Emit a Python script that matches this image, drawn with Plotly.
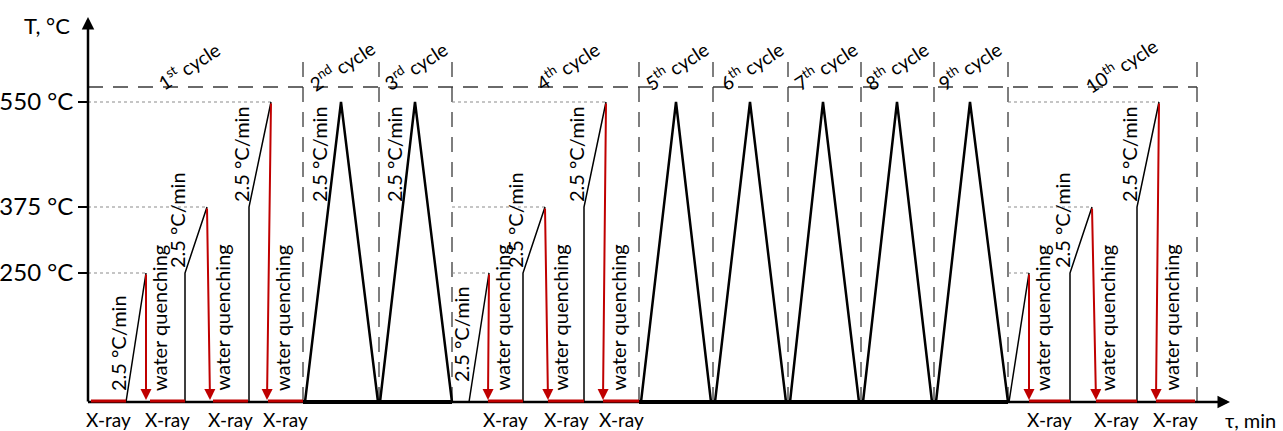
import plotly.graph_objects as go

FONT = "Lato"
RED = "#C00000"
BLACK = "#000000"

# ---------------- data (schematic units: x = time, y = temperature level) ----------------
T_LABELS = ["250 °C", "375 °C", "550 °C"]
T_LEVELS = [129, 195, 300]          # schematic heights of the temperature levels
T_AXIS_TOP = 385
CYCLE_TOP = 315
CYCLE_LINE_TOP = 345

CYCLE_EDGES = [0, 215, 291, 364, 551, 625, 700, 773, 846, 920, 1109]
CYCLE_ORD = ["st", "nd", "rd", "th", "th", "th", "th", "th", "th", "th"]
CYCLE_LABEL_X = [100, 253, 327, 479, 588, 663, 737, 808, 881, 1032]

# full heating/cooling cycles (triangles): 2nd, 3rd, 5th..9th
TRI_START = [217, 292, 553, 627, 702, 775, 848]
TRI_PEAK = [253, 327, 588, 662, 735, 809, 882]
TRI_END = [290, 364, 623, 698, 771, 844, 920]
TRI_RATE_LABEL = [True, True, False, False, False, False, False]

# step cycles: 1st, 4th, 10th (heat 2.5 °C/min to 250/375/550 °C, water quench, X-ray)
STEP_CYCLE_START = [0, 364, 920]
STEP_RAMP_START = [[38, 97, 161], [381, 435, 496], [921, 982, 1049]]
STEP_RAMP_END = [[58, 119, 183], [401, 457, 518], [941, 1004, 1071]]
STEP_QUENCH_END = [[58, 122, 179], [400, 460, 515], [941, 1008, 1068]]
STEP_XRAY_START = [[3, 62, 125, 180], [400, 460, 515], [941, 1008, 1068]]
STEP_XRAY_END = [[38, 97, 160, 215], [435, 496, 551], [982, 1049, 1107]]
STEP_RATE_LABEL = [[True, True, True], [True, True, True], [False, True, True]]
FIRST_RATE_Y = [59, 68, 59]

# ---------------- build figure ----------------
fig = go.Figure()


def seg_trace(xs, ys, color, width, dash="solid"):
    fig.add_trace(go.Scatter(x=xs, y=ys, mode="lines", hoverinfo="skip",
                             line=dict(color=color, width=width, dash=dash),
                             showlegend=False))


# dashed cycle separators
dx, dy = [], []
for e in CYCLE_EDGES[1:]:
    dx += [e, e, None]
    dy += [0, CYCLE_LINE_TOP, None]
dx += [0, CYCLE_EDGES[-1]]
dy += [CYCLE_TOP, CYCLE_TOP]
seg_trace(dx, dy, "#3a3a3a", 1.3, "15px,10px")

# dotted temperature guides
gx, gy = [], []
for c, start in enumerate(STEP_CYCLE_START):
    for i, lvl in enumerate(T_LEVELS):
        gx += [start, STEP_RAMP_END[c][i], None]
        gy += [lvl, lvl, None]
seg_trace(gx, gy, "#8c8c8c", 1.2, "dot")

# x axis line (with thicker section under full cycles)
seg_trace([0, 1136], [0, 0], BLACK, 2.5)
seg_trace([CYCLE_EDGES[1], CYCLE_EDGES[3]], [0, 0], BLACK, 4)
seg_trace([CYCLE_EDGES[4], CYCLE_EDGES[9]], [0, 0], BLACK, 4)

# step-cycle heating paths
sx, sy = [], []
for c in range(3):
    for i in range(3):
        lo = 0 if i == 0 else T_LEVELS[i - 1]
        x0, x1 = STEP_RAMP_START[c][i], STEP_RAMP_END[c][i]
        if i > 0:
            sx += [x0, x0]
            sy += [0, lo]
        else:
            sx += [x0]
            sy += [lo]
        sx += [x1, None]
        sy += [T_LEVELS[i], None]
seg_trace(sx, sy, BLACK, 1.5)

# triangles
tx, ty = [], []
for a, p, b in zip(TRI_START, TRI_PEAK, TRI_END):
    tx += [a, p, b, None]
    ty += [0, T_LEVELS[2], 0, None]
seg_trace(tx, ty, BLACK, 2.5)

# X-ray holds (red)
rx, ry = [], []
for c in range(3):
    for a, b in zip(STEP_XRAY_START[c], STEP_XRAY_END[c]):
        rx += [a, b, None]
        ry += [1, 1, None]
seg_trace(rx, ry, RED, 3)

ann = []
# quench arrows
for c in range(3):
    for i in range(3):
        ann.append(dict(x=STEP_QUENCH_END[c][i], y=2, ax=STEP_RAMP_END[c][i], ay=T_LEVELS[i],
                        xref="x", yref="y", axref="x", ayref="y", text="", showarrow=True,
                        arrowhead=2, arrowsize=1.1, arrowwidth=2, arrowcolor=RED, standoff=0))

# axes arrows
ann.append(dict(x=0, y=T_AXIS_TOP, ax=0, ay=-1, xref="x", yref="y", axref="x", ayref="y",
                text="", showarrow=True, arrowhead=2, arrowsize=1, arrowwidth=2.5,
                arrowcolor=BLACK, standoff=0))
ann.append(dict(x=1142, y=0, ax=1130, ay=0, xref="x", yref="y", axref="x", ayref="y",
                text="", showarrow=True, arrowhead=2, arrowsize=1, arrowwidth=2.5,
                arrowcolor=BLACK, standoff=0))

TXT = dict(family=FONT, color=BLACK)

# rate labels
for c in range(3):
    for i in range(3):
        if not STEP_RATE_LABEL[c][i]:
            continue
        lo = 0 if i == 0 else T_LEVELS[i - 1]
        yc = FIRST_RATE_Y[c] if i == 0 else lo + 53
        ann.append(dict(x=STEP_RAMP_START[c][i] - 8, y=yc, xref="x", yref="y",
                        text="2.5 °C/min", textangle=-90, showarrow=False,
                        xanchor="center", yanchor="middle", font=dict(size=20, **TXT)))
for a, flag in zip(TRI_START, TRI_RATE_LABEL):
    if flag:
        ann.append(dict(x=a + 14, y=T_LEVELS[1] + 53, xref="x", yref="y",
                        text="2.5 °C/min", textangle=-90, showarrow=False,
                        xanchor="center", yanchor="middle", font=dict(size=20, **TXT)))

# water quenching labels
for c in range(3):
    for i in range(3):
        xq = (STEP_RAMP_END[c][i] + STEP_QUENCH_END[c][i]) / 2 + 13
        ann.append(dict(x=xq, y=84, xref="x", yref="y", text="water quenching",
                        textangle=-90, showarrow=False, xanchor="center", yanchor="middle",
                        font=dict(size=20, **TXT)))

# X-ray labels
for c in range(3):
    for a, b in zip(STEP_XRAY_START[c], STEP_XRAY_END[c]):
        ann.append(dict(x=(a + b) / 2, y=-17, xref="x", yref="y", text="X-ray",
                        showarrow=False, xanchor="center", yanchor="middle",
                        font=dict(size=19, **TXT)))

# cycle labels
for k, (xc, o) in enumerate(zip(CYCLE_LABEL_X, CYCLE_ORD)):
    ann.append(dict(x=xc, y=337, xref="x", yref="y", text=f"{k + 1}<sup>{o}</sup> cycle",
                    textangle=-33, showarrow=False, xanchor="center", yanchor="middle",
                    font=dict(size=19, **TXT)))

# axis titles
ann.append(dict(x=-41 / 1195, y=377, xref="paper", yref="y", text="T, °C", showarrow=False,
                xanchor="center", yanchor="middle", font=dict(size=22, **TXT)))
ann.append(dict(x=1162, y=-18, xref="x", yref="y", text="τ, min", showarrow=False,
                xanchor="center", yanchor="middle", font=dict(size=20, **TXT)))

fig.update_layout(
    width=1283, height=431,
    margin=dict(l=88, r=0, t=0, b=0, autoexpand=False),
    paper_bgcolor="white", plot_bgcolor="white",
    showlegend=False,
    annotations=ann,
    xaxis=dict(range=[0, 1195], visible=False, fixedrange=True, automargin=False),
    yaxis=dict(range=[-29, 402], showgrid=False, zeroline=False, showline=False,
               automargin=False,
               tickmode="array", tickvals=T_LEVELS, ticktext=T_LABELS,
               ticks="outside", ticklen=9, tickwidth=1.5, tickcolor=BLACK,
               tickfont=dict(family=FONT, size=24, color=BLACK), fixedrange=True),
)

fig.write_html("out.html")
